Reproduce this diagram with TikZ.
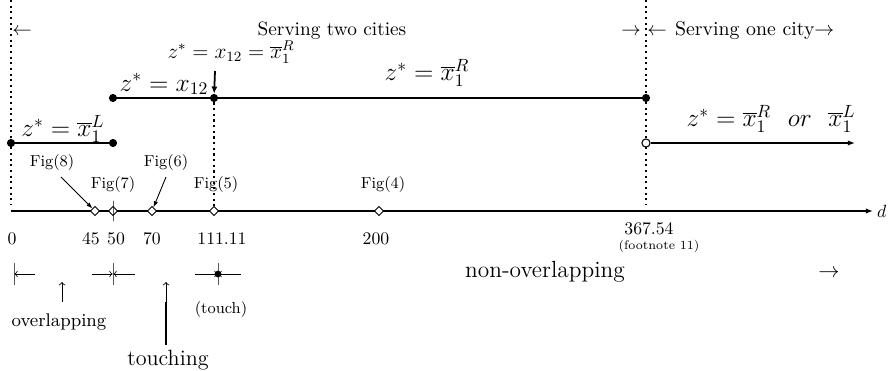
\documentclass[tikz,border=0pt]{standalone}
\usepackage{graphicx}
\usepackage{tikz}
\usepackage{xcolor}
\usetikzlibrary{shapes.geometric,arrows.meta}

\newcommand{\grow}[2]{\scalebox{#1}{#2}}

\begin{document}
\begin{tikzpicture}[
	x=0.565pt, y=-0.565pt,
	every node/.style={inner sep=1pt},
	seg/.style={line width=1.2pt},
	dot/.style={circle, fill, inner sep=0pt, minimum size=4.6pt},
	hole/.style={circle, draw, fill=white, line width=0.6pt, inner sep=0pt, minimum size=4.6pt},
	guide/.style={dotted, line width=1.2pt},
	pt/.style={diamond, draw, fill=white, line width=0.5pt, inner sep=0pt, minimum size=5.2pt},
	tick/.style={draw, line width=0.45pt, inner sep=0pt, minimum width=0pt, minimum height=12.4pt},
	val/.style={font=\Large},
	fig/.style={font=\small},
	pointer/.style={line width=0.5pt, -{Latex[length=3.5pt,width=2.5pt]}},
	glyph/.style={line width=0.45pt, -to},
	tip/.style={-{Latex[length=4pt,width=3pt]}}
]
\useasboundingbox (0,0) rectangle (894,371);

\coordinate (lt) at (11,0);
\coordinate (lb) at (11,205);
\coordinate (rt) at (646,0);
\coordinate (rb) at (646,205);
\draw[guide] (lt) -- (lb);
\draw[guide] (rt) -- (rb);

\node[anchor=base] (tl) at (22,36) {\grow{1.1}{$\leftarrow$}};
\node[anchor=base] (two) at (332,36) {\grow{1.09}{Serving two cities}};
\node[anchor=base] (tr) at (631,36) {\grow{1.1}{$\rightarrow$}};
\node[anchor=base] (ol) at (657,36) {\grow{1.1}{$\leftarrow$}};
\node[anchor=base west] (one) at (673,36) {\grow{1.12}{Serving one city$\rightarrow$}};

\node[dot] (a) at (11,143) {};
\node[dot] (b) at (113,143) {};
\node[dot] (c) at (113,98) {};
\node[dot] (m) at (214,98) {};
\node[dot] (e) at (646,98) {};
\node[hole] (h) at (646,143) {};
\coordinate (hend) at (855,143);
\draw[seg] (a) -- (b);
\draw[seg] (c) -- (m) -- (e);
\draw[seg, tip] (h) -- (hend);

\node[val, anchor=south] (la) at (63,145) {$z^*=\overline{x}_1^L$};
\node[val, anchor=south] (lc) at (164,97) {$z^*=x_{12}$};
\node[val, anchor=south] (lr) at (427,89) {$z^*=\overline{x}_1^R$};
\node[val, anchor=south] (lh) at (771,135) {$z^*=\overline{x}_1^R\ \ or\ \ \overline{x}_1^L$};
\node[font=\large, anchor=south] (ann) at (231,66) {$z^*=x_{12}=\overline{x}_1^R$};
\coordinate (annp) at (215,71);
\draw[line width=1pt, -{Latex[length=4pt,width=3.5pt]}] (annp) -- (m);

\coordinate (o) at (11,211);
\coordinate (dend) at (873,211);
\draw[seg, tip] (o) -- (dend);
\node[anchor=west] (dlab) at (875,211) {$d$};

\node[fig] (f8) at (52,163) {Fig(8)};
\node[fig] (f7) at (113,185) {Fig(7)};
\node[fig] (f6) at (166,163) {Fig(6)};
\node[fig] (f5) at (216,185) {Fig(5)};
\node[fig] (f4) at (383,185) {Fig(4)};

\node[pt] (d45) at (95,211) {};
\node[pt] (d50) at (113,211) {};
\node[pt] (d70) at (152,211) {};
\node[pt] (d111) at (214,211) {};
\node[pt] (d200) at (379,211) {};
\node[tick, minimum height=11.5pt] (k50) at (113,211) {};
\draw[guide] (m) -- (d111);

\coordinate (p8) at (61,177);
\coordinate (p6) at (166,177);
\draw[pointer] (p8) -- (d45);
\draw[pointer] (p6) -- (d70);

\node[anchor=base] (v0) at (12,245) {0};
\node[anchor=base] (v45) at (91,245) {45};
\node[anchor=base] (v50) at (116,245) {50};
\node[anchor=base] (v70) at (152,245) {70};
\node[anchor=base] (v111) at (222,245) {111.11};
\node[anchor=base] (v200) at (376,245) {200};
\node[anchor=base] (v367) at (649,235) {367.54};
\node[anchor=base, font=\scriptsize] (fn) at (659,250) {(footnote 11)};

\node[tick] (k1) at (14,274) {};
\node[tick] (k2) at (113,274) {};
\node[tick] (k3) at (218,274) {};
\node[dot, minimum size=3.8pt] (kd) at (218,274) {};
\coordinate (g1) at (35,274);
\coordinate (g2) at (92,274);
\coordinate (g3) at (135,274);
\coordinate (g4) at (195,274);
\coordinate (g5) at (241,274);
\draw[glyph] (g1) -- (k1);
\draw[glyph] (g2) -- (k2);
\draw[glyph] (g3) -- (k2);
\draw[glyph] (g4) -- (k3);
\draw[glyph] (g5) -- (k3);

\coordinate (up1) at (62,282);
\coordinate (up1b) at (62,302);
\coordinate (up2) at (166,282);
\coordinate (up2b) at (166,302);
\coordinate (stem) at (166,345);
\draw[glyph] (up1b) -- (up1);
\draw[glyph] (up2b) -- (up2);
\draw[line width=1.4pt] (up2b) -- (stem);

\node[anchor=base, font=\small] (ov) at (59,327) {\grow{1.15}{overlapping}};
\node[anchor=base, font=\fontsize{12.5}{15}\selectfont] (tc) at (168,366) {touching};
\node[font=\small] (tch) at (221,310) {(touch)};
\node[anchor=base, font=\fontsize{13.2}{16}\selectfont] (no) at (545,278) {non-overlapping};
\node[anchor=base, font=\large] (nr) at (829,278) {$\rightarrow$};
\end{tikzpicture}
\end{document}
